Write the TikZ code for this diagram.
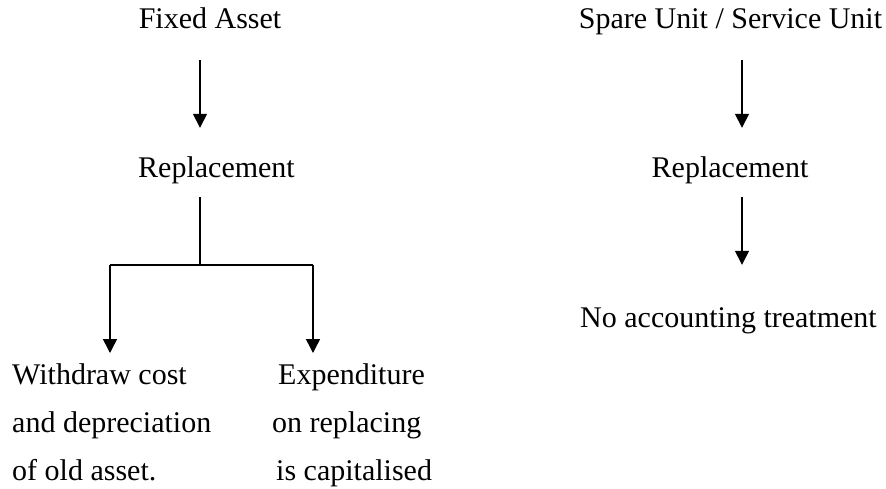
\documentclass[tikz,border=0pt]{standalone}
\usepackage{fontspec}
\setmainfont{Liberation Serif}
\usepackage{tikz}
\usetikzlibrary{arrows.meta, positioning, calc}

\begin{document}
\begin{tikzpicture}[x=1pt, y=-1pt,
    every node/.style={inner sep=0pt, text height=20pt, text depth=6pt, font=\fontsize{30}{48}\selectfont},
    arr/.style={line width=1.5pt, -{Triangle[length=14pt, width=14pt]}},
    plain/.style={line width=1.5pt}]
    \useasboundingbox (0,0) rectangle (886,488);

    % left column
    \node (fa) at (210,21) {Fixed Asset};
    \node (rep1) at (216.5,170) {Replacement};
    \node[anchor=north west, align=left, text height=, text depth=] (wd) at (12,363)
        {Withdraw cost\\and depreciation\\of old asset.};
    \node[anchor=north west, align=left, text height=, text depth=] (ex) at (272,363)
        {\hspace*{6pt}Expenditure\\on replacing\\\hspace*{4pt}is capitalised};

    \coordinate (br) at (200,265);
    \coordinate (bl) at (110,265);
    \coordinate (bk) at (313,265);

    \draw[arr, shorten <=26pt, shorten >=29pt] ([xshift=-10pt]fa.south) -- ([xshift=-16.5pt]rep1.north);
    \draw[plain, shorten <=14pt] ([xshift=-16.5pt]rep1.south) -- (br);
    \draw[plain] (bl) -- (bk);
    \draw[arr, shorten >=10pt] (bl) -- (bl |- wd.north);
    \draw[arr, shorten >=10pt] (bk) -- (bk |- ex.north);

    % right column
    \node (su) at (730.5,21) {Spare Unit / Service Unit};
    \node (rep2) at (730,170) {Replacement};
    \node (na) at (728.5,320) {No accounting treatment};

    \draw[arr, shorten <=26pt, shorten >=29pt] ([xshift=11.5pt]su.south) -- ([xshift=12pt]rep2.north);
    \draw[arr, shorten <=14pt, shorten >=42pt] ([xshift=12pt]rep2.south) -- ([xshift=13.5pt]na.north);
\end{tikzpicture}
\end{document}
